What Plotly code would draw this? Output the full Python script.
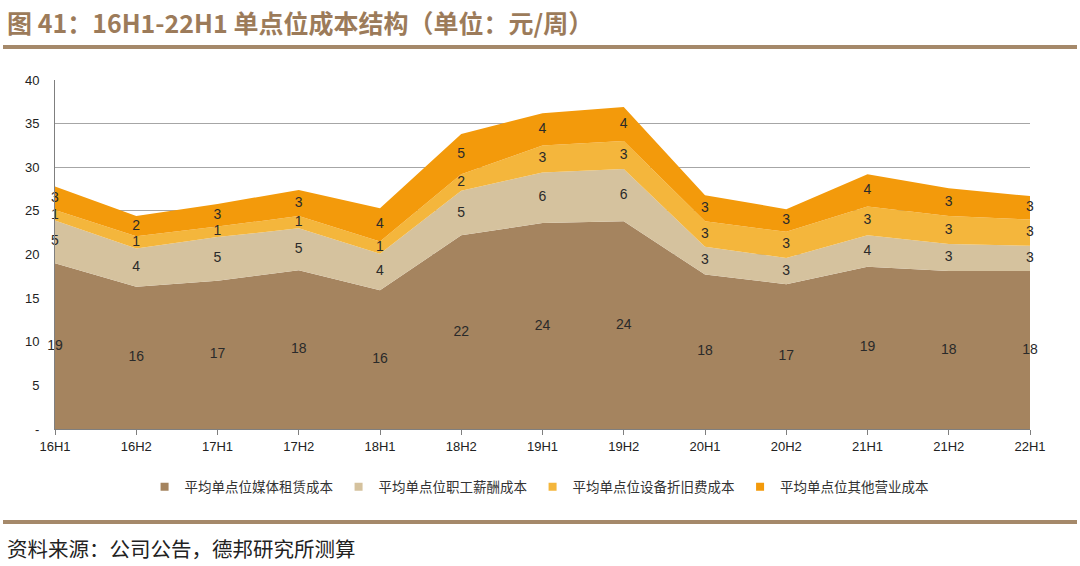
import numpy as np
import plotly.graph_objects as go

categories = ["16H1", "16H2", "17H1", "17H2", "18H1", "18H2", "19H1",
              "19H2", "20H1", "20H2", "21H1", "21H2", "22H1"]
media = [19.0, 16.3, 17.0, 18.2, 15.9, 22.2, 23.6, 23.8, 17.7, 16.6, 18.6, 18.1, 18.1]
staff = [4.9, 4.4, 5.0, 4.8, 4.2, 5.1, 5.8, 6.0, 3.2, 3.0, 3.6, 3.1, 2.9]
equip = [1.2, 1.4, 1.2, 1.4, 1.4, 1.9, 3.1, 3.2, 2.9, 3.0, 3.3, 3.2, 3.0]
other = [2.7, 2.3, 2.6, 3.0, 3.8, 4.6, 3.7, 3.9, 3.0, 2.6, 3.7, 3.2, 2.7]

series_names = ["平均单点位媒体租赁成本", "平均单点位职工薪酬成本",
                "平均单点位设备折旧费成本", "平均单点位其他营业成本"]
series_values = [media, staff, equip, other]
colors = ["#A5845F", "#D5C29E", "#F4B63C", "#F39A0B"]

ytick_vals = [0, 5, 10, 15, 20, 25, 30, 35, 40]
ytick_text = ["-", "5", "10", "15", "20", "25", "30", "35", "40"]

title_text = "图 41：16H1-22H1 单点位成本结构（单位：元/周）"
source_text = "资料来源：公司公告，德邦研究所测算"

num_font = "Arial, Liberation Sans, sans-serif"
cjk_font = "Noto Sans CJK SC, sans-serif"

fig = go.Figure()

# stacked areas
for name, vals, col in zip(series_names, series_values, colors):
    fig.add_trace(go.Scatter(
        x=categories, y=vals, name=name, stackgroup="one", mode="lines",
        line=dict(width=0, color=col), fillcolor=col, showlegend=False,
        hoverinfo="skip"))

# data labels at band centres
cum = np.zeros(len(categories))
for vals in series_values:
    v = np.array(vals)
    mid = cum + v / 2
    cum = cum + v
    fig.add_trace(go.Scatter(
        x=categories, y=mid, mode="text",
        text=[f"{x:.0f}" for x in v], textposition="middle center",
        textfont=dict(family=num_font, size=14, color="#2a2a2a"),
        showlegend=False, cliponaxis=False, hoverinfo="skip"))

# legend entries (square markers)
for name, col in zip(series_names, colors):
    fig.add_trace(go.Scatter(
        x=[None], y=[None], mode="markers", name=name,
        marker=dict(symbol="square", size=8, color=col)))

W, H = 1080, 566
ml, mr, mt, mb = 55, 50, 80, 137
pw = W - ml - mr
ph = H - mt - mb


def px_x(x):
    return (x - ml) / pw


def px_y(y):
    return (H - mb - y) / ph


fig.update_layout(
    width=W, height=H,
    margin=dict(l=ml, r=mr, t=mt, b=mb),
    paper_bgcolor="white", plot_bgcolor="white",
    showlegend=True,
    legend=dict(orientation="h", x=0.497, xanchor="center",
                y=px_y(487), yanchor="middle", traceorder="normal",
                font=dict(family=cjk_font, size=13.5, color="#333333"),
                itemwidth=30, tracegroupgap=0),
    xaxis=dict(type="category", range=[0, len(categories) - 1],
               showgrid=False, showline=True, linecolor="#7f7f7f",
               linewidth=1, ticks="outside", ticklen=5, tickcolor="#7f7f7f",
               tickfont=dict(family=num_font, size=13, color="#222222"),
               zeroline=False, fixedrange=True),
    yaxis=dict(range=[0, 40], tickvals=ytick_vals, ticktext=ytick_text,
               showgrid=True, gridcolor="#a6a6a6", gridwidth=1,
               showline=True, linecolor="#7f7f7f", linewidth=1,
               ticks="", ticklabelstandoff=12,
               tickfont=dict(family=num_font, size=13, color="#222222"),
               zeroline=False, fixedrange=True),
    shapes=[
        dict(type="line", xref="paper", yref="paper",
             x0=px_x(3), x1=px_x(1077), y0=px_y(47), y1=px_y(47),
             line=dict(color="#A5896A", width=4)),
        dict(type="line", xref="paper", yref="paper",
             x0=px_x(3), x1=px_x(1077), y0=px_y(522), y1=px_y(522),
             line=dict(color="#A5896A", width=4)),
    ],
    annotations=[
        dict(text=f"<b>{title_text}</b>", xref="paper", yref="paper",
             x=px_x(5), y=px_y(22), xanchor="left", yanchor="middle",
             showarrow=False,
             font=dict(family=cjk_font, size=25, color="#9C7B5A")),
        dict(text=source_text, xref="paper", yref="paper",
             x=px_x(5), y=px_y(548), xanchor="left", yanchor="middle",
             showarrow=False,
             font=dict(family=cjk_font, size=20.5, color="#222222")),
    ],
)

fig.write_html("out.html",
               config={"displayModeBar": False},
               post_script="document.body.style.margin='0';"
                           "document.body.style.padding='0';")
